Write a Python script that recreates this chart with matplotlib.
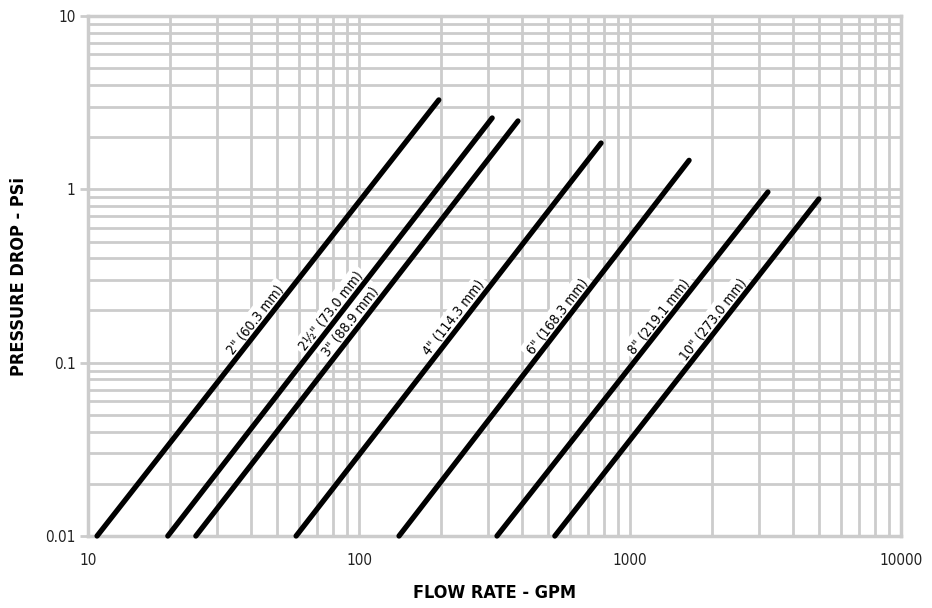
import numpy as np
import matplotlib.pyplot as plt
from matplotlib.ticker import LogLocator, FixedLocator, NullFormatter

# tamanhos de tubo e pontos (vazao GPM, perda de carga psi)
nomes = ['2" (60.3 mm)', '2½" (73.0 mm)', '3" (88.9 mm)', '4" (114.3 mm)',
         '6" (168.3 mm)', '8" (219.1 mm)', '10" (273.0 mm)']
vazao_ini = [10.8, 19.7, 25.0, 58.6, 140.5, 323, 528]
vazao_fim = [197, 310, 386, 782, 1652, 3228, 4978]
perda_ini = [0.01, 0.01, 0.01, 0.01, 0.01, 0.01, 0.01]
perda_fim = [3.28, 2.58, 2.48, 1.85, 1.47, 0.965, 0.88]
# altura (psi) do ponto da linha junto ao centro de cada rotulo
perda_rotulo = [0.165, 0.185, 0.16, 0.168, 0.172, 0.172, 0.166]

cinza = '#cccccc'
plt.rcParams['font.family'] = ['DejaVu Sans']
plt.rcParams['font.stretch'] = 'condensed'

fig = plt.figure(figsize=(9.32, 6.08), dpi=100)
ax = fig.add_axes([88 / 932, 1 - 536 / 608, 813 / 932, 520 / 608])
ax.set_xscale('log')
ax.set_yscale('log')
ax.set_xlim(10, 10000)
ax.set_ylim(0.01, 10)

# grade
ax.xaxis.set_major_locator(FixedLocator([10, 100, 1000, 10000]))
ax.yaxis.set_major_locator(FixedLocator([0.01, 0.1, 1, 10]))
ax.xaxis.set_minor_locator(LogLocator(base=10, subs=np.arange(2, 10)))
ax.yaxis.set_minor_locator(LogLocator(base=10, subs=np.arange(2, 10)))
ax.xaxis.set_minor_formatter(NullFormatter())
ax.yaxis.set_minor_formatter(NullFormatter())
ax.set_xticklabels(['10', '100', '1000', '10000'])
ax.set_yticklabels(['0.01', '0.1', '1', '10'])
ax.grid(True, which='both', color=cinza, lw=2.0, zorder=0)
ax.set_axisbelow(True)
for s in ax.spines.values():
    s.set_color(cinza)
    s.set_linewidth(2.5)
ax.tick_params(axis='x', which='both', length=0, pad=12, labelsize=11)
ax.tick_params(axis='y', which='major', length=6, width=2, color=cinza, pad=3, labelsize=11)
ax.tick_params(axis='y', which='minor', length=0)
for t in ax.get_xticklabels() + ax.get_yticklabels():
    t.set_color('#222222')

# linhas
for i in range(len(nomes)):
    ax.plot([vazao_ini[i], vazao_fim[i]], [perda_ini[i], perda_fim[i]],
            color='black', lw=3.8, solid_capstyle='round', zorder=5, clip_on=False)

# rotulos ao longo das linhas
for i in range(len(nomes)):
    p1 = ax.transData.transform((vazao_ini[i], perda_ini[i]))
    p2 = ax.transData.transform((vazao_fim[i], perda_fim[i]))
    ang = np.degrees(np.arctan2(p2[1] - p1[1], p2[0] - p1[0]))
    k = np.log(perda_rotulo[i] / perda_ini[i]) / np.log(perda_fim[i] / perda_ini[i])
    xr = vazao_ini[i] * (vazao_fim[i] / vazao_ini[i]) ** k
    dx = -np.sin(np.radians(ang)) * 6.5
    dy = np.cos(np.radians(ang)) * 6.5
    ax.annotate(nomes[i], (xr, perda_rotulo[i]), xytext=(dx, dy), textcoords='offset points',
                rotation=ang, rotation_mode='anchor', ha='center', va='center',
                fontsize=10, color='black', zorder=4,
                bbox=dict(boxstyle='square,pad=0.25', fc='white', ec='none'))

ax.set_xlabel('FLOW RATE - GPM', fontsize=13, fontweight='bold', labelpad=12)
ax.set_ylabel('PRESSURE DROP - PSi', fontsize=13, fontweight='bold', labelpad=12)

fig.savefig('out.png', dpi=100)
